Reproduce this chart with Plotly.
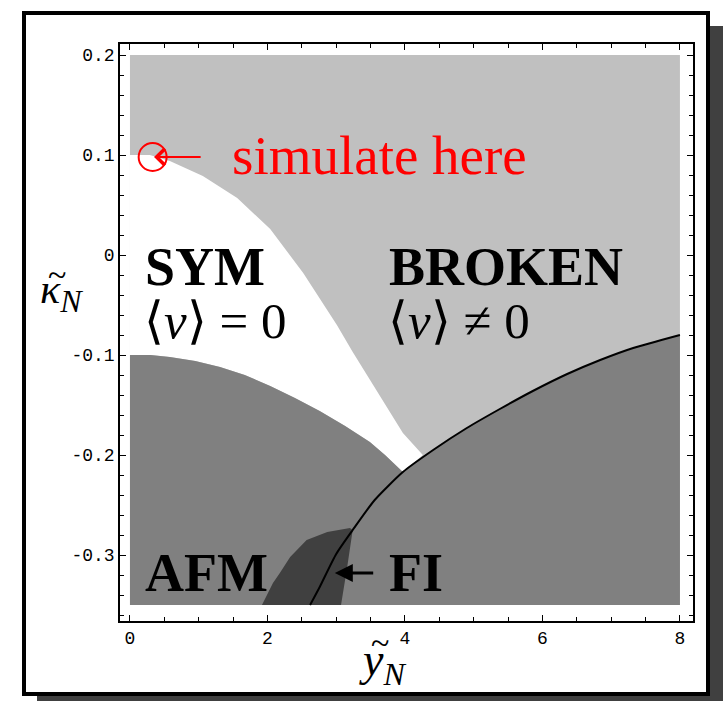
import plotly.graph_objects as go

# Phase boundaries in the (y_N, kappa_N) plane
sym_x = [0.0, 0.29, 0.58, 1.06, 1.56, 2.04, 2.52, 2.76, 3.01, 3.24, 3.49, 3.74, 3.97, 4.26]
sym_y = [0.1, 0.1, 0.094, 0.079, 0.057, 0.026, -0.018, -0.043, -0.07, -0.097, -0.125, -0.153, -0.178, -0.2]

afm_x = [0.0, 0.3, 0.58, 0.95, 1.31, 1.67, 2.04, 2.4, 2.76, 3.13, 3.49, 3.71, 3.97]
afm_y = [-0.1, -0.1, -0.102, -0.106, -0.112, -0.12, -0.131, -0.143, -0.156, -0.171, -0.187, -0.2, -0.217]

line_x = [2.62, 2.76, 3.0, 3.24, 3.56, 3.97, 4.41, 4.9, 5.38, 5.86, 6.36, 6.84, 7.32, 8.0]
line_y = [-0.35, -0.332, -0.299, -0.275, -0.245, -0.217, -0.195, -0.173, -0.154, -0.136, -0.119, -0.105, -0.093, -0.08]

fi_x = [1.92, 2.08, 2.18, 2.33, 2.57, 2.87, 3.2, 3.24, 3.16, 3.07]
fi_y = [-0.35, -0.328, -0.318, -0.302, -0.285, -0.277, -0.273, -0.275, -0.312, -0.35]

x_min, x_max = 0.0, 8.0
y_min, y_max = -0.35, 0.2

sim_point = (0.33, 0.098)

x_ticks = [0, 2, 4, 6, 8]
x_ticktext = ["0", "2", "4", "6", "8"]
y_ticks = [0.2, 0.1, 0.0, -0.1, -0.2, -0.3]
y_ticktext = ["0.2", "0.1", "0", "-0.1", "-0.2", "-0.3"]

LIGHT = "#c0c0c0"
MID = "#808080"
DARK = "#404040"

W, H = 723, 701
ML, MR, MT, MB = 120, 30, 44, 80

fig = go.Figure()

def region(xs, ys, color):
    fig.add_trace(go.Scatter(x=xs, y=ys, mode="lines", fill="toself",
                             fillcolor=color, line=dict(width=0, color=color),
                             hoverinfo="skip", showlegend=False))

# broken phase: whole parameter window
region([x_min, x_max, x_max, x_min], [y_min, y_min, y_max, y_max], LIGHT)

# symmetric phase: between the two curves, closed along the transition line
tip = line_x.index(3.97)
sym_poly_x = sym_x + [line_x[tip]] + afm_x[::-1]
sym_poly_y = sym_y + [line_y[tip]] + afm_y[::-1]
region(sym_poly_x, sym_poly_y, "#ffffff")

# antiferromagnetic + lower phase
low_x = afm_x + line_x[tip + 1:] + [x_max, x_min]
low_y = afm_y + line_y[tip + 1:] + [y_min, y_min]
region(low_x, low_y, MID)

# ferrimagnetic pocket
region(fi_x, fi_y, DARK)

# transition line
fig.add_trace(go.Scatter(x=line_x, y=line_y, mode="lines",
                         line=dict(color="black", width=2, shape="spline", smoothing=0.6),
                         hoverinfo="skip", showlegend=False))

# simulation point
fig.add_trace(go.Scatter(x=[sim_point[0]], y=[sim_point[1]], mode="markers",
                         marker=dict(symbol="circle-open", size=28,
                                     line=dict(color="red", width=2), color="red"),
                         hoverinfo="skip", showlegend=False))

serif = "Liberation Serif, Times New Roman, serif"

def label(txt, x, y, size=54, color="black", anchor="left"):
    fig.add_annotation(x=x, y=y, xref="x", yref="y", text=txt, showarrow=False,
                       xanchor=anchor, yanchor="middle",
                       font=dict(family=serif, size=size, color=color))

label("<b>SYM</b>", 0.19, -0.012)
label("<b>BROKEN</b>", 3.74, -0.012)
label("⟨<i>v</i>⟩ = 0", 0.17, -0.066, size=51)
label("⟨<i>v</i>⟩ ≠ 0", 3.72, -0.066, size=51)
label("<b>AFM</b>", 0.19, -0.318)
label("<b>FI</b>", 3.74, -0.318)
label("simulate here", 1.45, 0.1, size=55, color="red")

# arrows
fig.add_annotation(x=sim_point[0] + 0.02, y=sim_point[1], ax=1.05, ay=sim_point[1],
                   xref="x", yref="y", axref="x", ayref="y", text="",
                   showarrow=True, arrowhead=4, arrowsize=1.6, arrowwidth=2,
                   arrowcolor="red")
fig.add_annotation(x=2.98, y=-0.318, ax=3.56, ay=-0.318,
                   xref="x", yref="y", axref="x", ayref="y", text="",
                   showarrow=True, arrowhead=2, arrowsize=1.2, arrowwidth=3,
                   arrowcolor="black")

# axis titles
def paper_x(px):
    return (px - ML) / (W - ML - MR)

def paper_y(py):
    return (H - MB - py) / (H - MT - MB)

def title(txt, px, py, size=42, anchor="left"):
    fig.add_annotation(x=paper_x(px), y=paper_y(py), xref="paper", yref="paper",
                       text=txt, showarrow=False, xanchor=anchor, yanchor="middle",
                       font=dict(family=serif, size=size, color="black"))

sub_n = '<sub><span style="font-size:32px"><i>N</i></span></sub>'
title("<i>κ</i>" + sub_n, 38, 292)
title("~", 57, 274, size=34, anchor="center")
title("<i>y</i>" + sub_n, 357, 663, size=46)
title("~", 380, 643, size=34, anchor="center")

# framed box with drop shadow
fig.add_shape(type="rect", xref="paper", yref="paper", layer="below",
              x0=paper_x(37), x1=paper_x(725), y0=paper_y(703), y1=paper_y(26),
              fillcolor="#404040", line=dict(width=0))
fig.add_shape(type="rect", xref="paper", yref="paper", layer="below",
              x0=paper_x(24), x1=paper_x(708), y0=paper_y(694), y1=paper_y(13),
              fillcolor="white", line=dict(width=4, color="black"))

tickfont = dict(family="Liberation Mono, DejaVu Sans Mono, monospace", size=18, color="black")

fig.update_xaxes(range=[-0.145, 8.19], showgrid=False, zeroline=False,
                 showline=True, linecolor="black", linewidth=1.5, mirror="ticks",
                 ticks="inside", ticklen=6, tickwidth=1, tickcolor="black",
                 tickvals=x_ticks, ticktext=x_ticktext, tickfont=tickfont,
                 minor=dict(ticks="inside", dtick=0.5, ticklen=4, tickcolor="black"))
fig.update_yaxes(range=[-0.366, 0.211], showgrid=False, zeroline=False,
                 showline=True, linecolor="black", linewidth=1.5, mirror="ticks",
                 ticks="inside", ticklen=6, tickwidth=1, tickcolor="black",
                 tickvals=y_ticks, ticktext=y_ticktext, tickfont=tickfont,
                 minor=dict(ticks="inside", dtick=0.02, ticklen=4, tickcolor="black"))

fig.update_layout(width=W, height=H, margin=dict(l=ML, r=MR, t=MT, b=MB),
                  paper_bgcolor="white", plot_bgcolor="rgba(0,0,0,0)",
                  showlegend=False)

fig.write_html("out.html")
